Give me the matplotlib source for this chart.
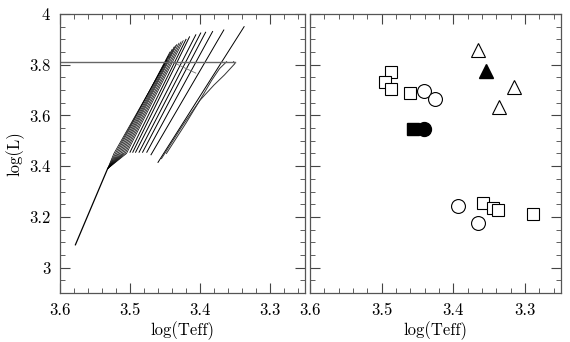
import matplotlib
matplotlib.use("Agg")
import matplotlib.pyplot as plt
from matplotlib.ticker import MultipleLocator

plt.rcParams['font.family'] = ['cmr10', 'DejaVu Serif']
plt.rcParams['axes.formatter.use_mathtext'] = True

# left panel: evolutionary tracks (Teff, L points)
trunk_teff = [3.578, 3.532]
trunk_lum = [3.09, 3.39]

# tracks leaving the end of the trunk: knee near log L = 3.45, then top end
fan_knee_teff = [3.523, 3.521, 3.519, 3.517, 3.515, 3.513, 3.511, 3.509, 3.507, 3.505]
fan_knee_lum = [3.45, 3.45, 3.45, 3.45, 3.45, 3.45, 3.45, 3.45, 3.45, 3.45]
fan_top_teff = [3.447, 3.445, 3.443, 3.440, 3.437, 3.435, 3.433, 3.430, 3.427, 3.424]
fan_top_lum = [3.820, 3.835, 3.850, 3.860, 3.870, 3.875, 3.880, 3.885, 3.890, 3.895]

# tracks starting near log L = 3.45
sep_bot_teff = [3.500, 3.496, 3.492, 3.487, 3.482, 3.476, 3.470, 3.460]
sep_bot_lum = [3.455, 3.455, 3.455, 3.455, 3.455, 3.455, 3.445, 3.415]
sep_top_teff = [3.420, 3.415, 3.406, 3.399, 3.392, 3.382, 3.366, 3.337]
sep_top_lum = [3.900, 3.910, 3.918, 3.925, 3.928, 3.931, 3.937, 3.950]

# tracks bending into the plateau
curve1_teff = [3.455, 3.425, 3.400, 3.380, 3.365, 3.355, 3.350, 3.352]
curve1_lum = [3.430, 3.560, 3.660, 3.720, 3.760, 3.790, 3.805, 3.812]
curve2_teff = [3.448, 3.420, 3.398, 3.383, 3.372, 3.362]
curve2_lum = [3.450, 3.570, 3.670, 3.740, 3.785, 3.812]
curve3_teff = [3.446, 3.435, 3.420, 3.406]
curve3_lum = [3.822, 3.805, 3.785, 3.767]
curve4_teff = [3.444, 3.420, 3.395, 3.372]
curve4_lum = [3.812, 3.812, 3.812, 3.812]

plateau_teff = [3.600, 3.350]
plateau_lum = [3.812, 3.812]

# right panel: observed stars
osq_teff = [3.487, 3.496, 3.487, 3.460, 3.359, 3.345, 3.338, 3.289]
osq_lum = [3.773, 3.730, 3.703, 3.688, 3.253, 3.234, 3.229, 3.213]
fsq_teff = [3.457]
fsq_lum = [3.548]
oci_teff = [3.441, 3.426, 3.393, 3.366]
oci_lum = [3.696, 3.665, 3.244, 3.177]
fci_teff = [3.441]
fci_lum = [3.548]
otr_teff = [3.366, 3.315, 3.336]
otr_lum = [3.857, 3.711, 3.633]
ftr_teff = [3.355]
ftr_lum = [3.775]

fig = plt.figure(figsize=(5.7, 3.42), dpi=100)
ax1 = fig.add_axes([60/570, 1-293/342, 245/570, 279/342])
ax2 = fig.add_axes([310/570, 1-293/342, 251/570, 279/342])

lw = 0.7
ax1.plot(trunk_teff, trunk_lum, color='black', lw=0.9)
for i in range(len(fan_knee_teff)):
    ax1.plot([trunk_teff[-1], fan_knee_teff[i], fan_top_teff[i]],
             [trunk_lum[-1], fan_knee_lum[i], fan_top_lum[i]], color='black', lw=0.5)
for i in range(len(sep_bot_teff)):
    ax1.plot([sep_bot_teff[i], sep_top_teff[i]], [sep_bot_lum[i], sep_top_lum[i]],
             color='black', lw=lw)
ax1.plot(curve1_teff, curve1_lum, color='#333333', lw=lw)
ax1.plot(curve2_teff, curve2_lum, color='#333333', lw=lw)
ax1.plot(curve3_teff, curve3_lum, color='#777777', lw=0.6)
ax1.plot(curve4_teff, curve4_lum, color='black', lw=0.7)
ax1.plot(plateau_teff, plateau_lum, color='#666666', lw=1.0)

ax2.plot(osq_teff, osq_lum, 's', ms=8.5, mfc='white', mec='black', mew=0.8)
ax2.plot(fsq_teff, fsq_lum, 's', ms=8.5, mfc='black', mec='black')
ax2.plot(oci_teff, oci_lum, 'o', ms=10, mfc='white', mec='black', mew=0.8)
ax2.plot(fci_teff, fci_lum, 'o', ms=10, mfc='black', mec='black')
ax2.plot(otr_teff, otr_lum, '^', ms=9.5, mfc='white', mec='black', mew=0.8)
ax2.plot(ftr_teff, ftr_lum, '^', ms=9.5, mfc='black', mec='black')

fmt = plt.FuncFormatter(lambda v, p: '%g' % round(v, 2))
for ax in (ax1, ax2):
    ax.set_xlim(3.6, 3.25)
    ax.set_ylim(2.9, 4.0)
    ax.xaxis.set_major_locator(MultipleLocator(0.1))
    ax.xaxis.set_minor_locator(MultipleLocator(0.02))
    ax.yaxis.set_major_locator(MultipleLocator(0.2))
    ax.yaxis.set_minor_locator(MultipleLocator(0.05))
    ax.tick_params(which='both', direction='in', top=True, right=True,
                   color='#444444', labelsize=12, pad=7)
    ax.tick_params(which='major', length=7, width=0.8)
    ax.tick_params(which='minor', length=3.5, width=0.6)
    for s in ax.spines.values():
        s.set_color('#555555')
        s.set_linewidth(0.9)
    ax.set_xlabel('log(Teff)', fontsize=12, labelpad=2)
    ax.xaxis.set_major_formatter(fmt)
    ax.yaxis.set_major_formatter(fmt)

ax1.set_ylabel('log(L)', fontsize=12, labelpad=3)
ax2.tick_params(labelleft=False)

fig.savefig('out.png', dpi=100)
